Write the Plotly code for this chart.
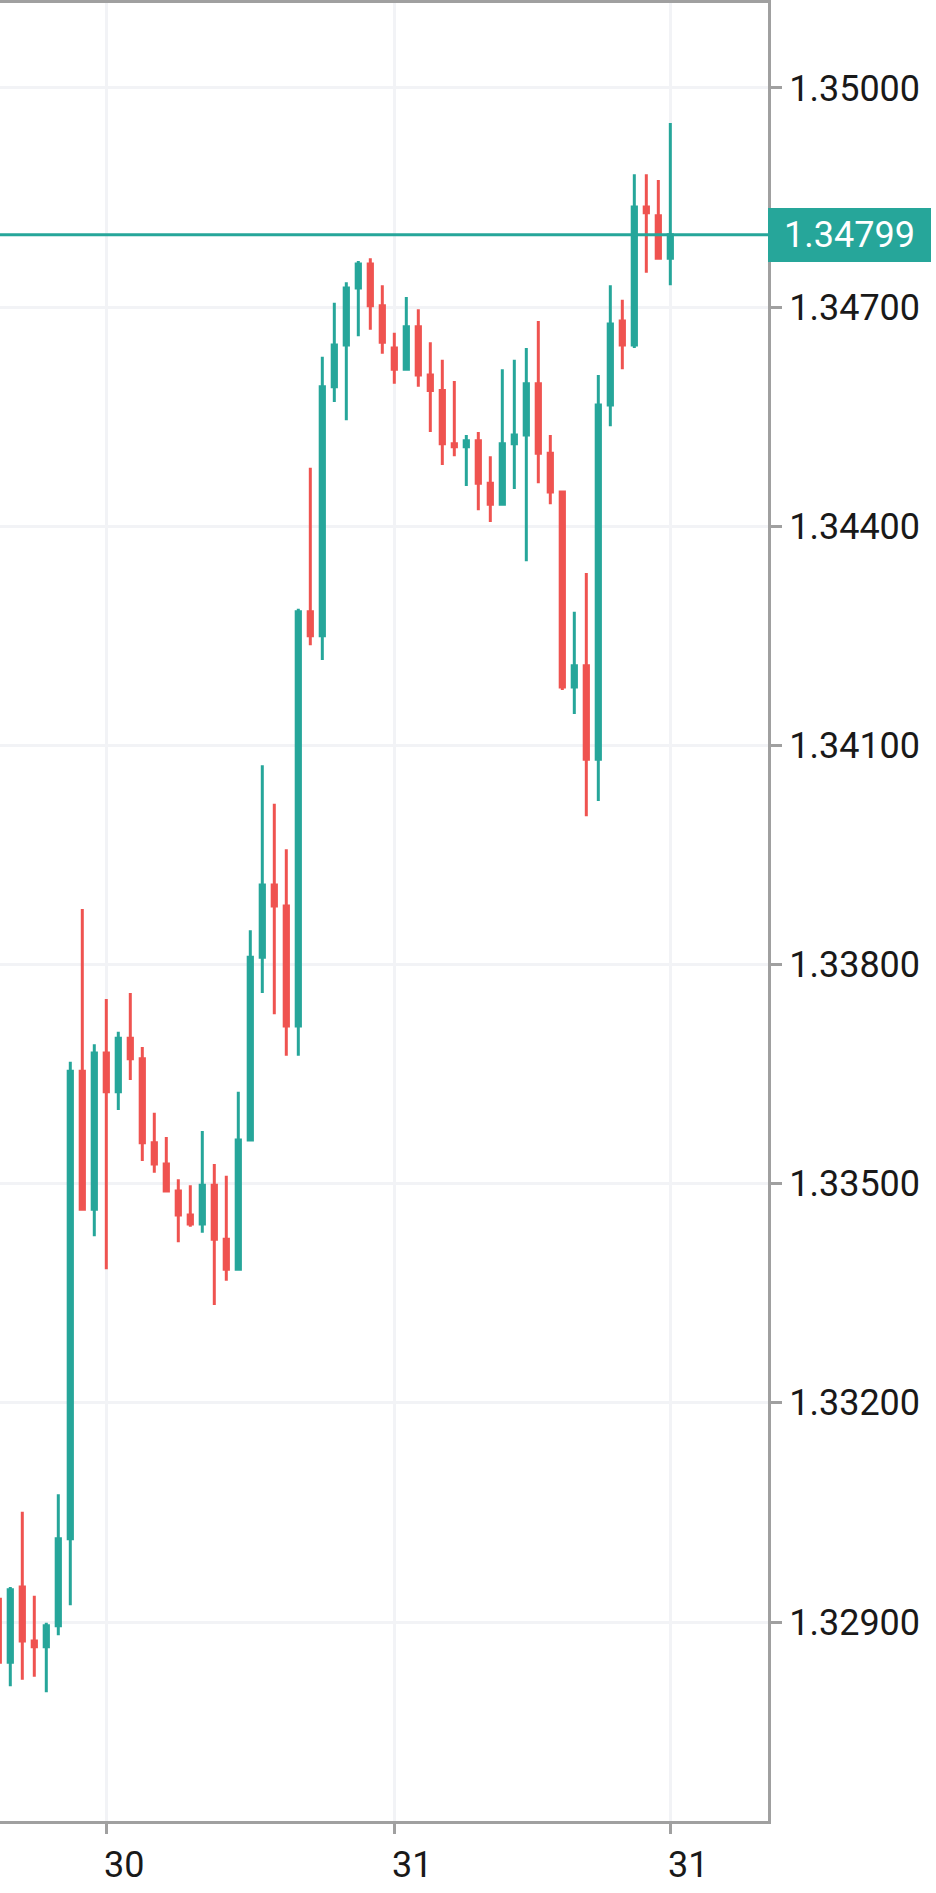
import plotly.graph_objects as go

# hourly bars, numbered from the first bar that starts after the left edge
bar_no = list(range(-1, 56))

opens = [1.32931, 1.32845, 1.32948, 1.32874, 1.32866, 1.32895, 1.33014, 1.33654,
         1.33465, 1.33679, 1.33626, 1.33699, 1.33671, 1.33556, 1.33527, 1.33490,
         1.33457, 1.33445, 1.33498, 1.33424, 1.33383, 1.33560, 1.33810, 1.33909,
         1.33880, 1.33716, 1.34283, 1.34250, 1.34591, 1.34648, 1.34726, 1.34759,
         1.34702, 1.34644, 1.34615, 1.34673, 1.34607, 1.34586, 1.34513, 1.34509,
         1.34517, 1.34459, 1.34430, 1.34513, 1.34525, 1.34595, 1.34500, 1.34447,
         1.34180, 1.34209, 1.34081, 1.34566, 1.34681, 1.34648, 1.34837, 1.34825,
         1.34767]
highs = [1.32937, 1.32948, 1.33051, 1.32936, 1.32899, 1.33075, 1.33667, 1.33876,
         1.33691, 1.33753, 1.33708, 1.33761, 1.33687, 1.33597, 1.33564, 1.33506,
         1.33498, 1.33572, 1.33527, 1.33511, 1.33626, 1.33847, 1.34073, 1.34020,
         1.33958, 1.34287, 1.34480, 1.34632, 1.34706, 1.34734, 1.34763, 1.34767,
         1.34730, 1.34665, 1.34714, 1.34697, 1.34652, 1.34628, 1.34599, 1.34525,
         1.34529, 1.34496, 1.34615, 1.34628, 1.34644, 1.34681, 1.34525, 1.34447,
         1.34283, 1.34336, 1.34607, 1.34730, 1.34710, 1.34882, 1.34882, 1.34874,
         1.34952]
lows = [1.32837, 1.32812, 1.32821, 1.32825, 1.32804, 1.32882, 1.32923, 1.33465,
        1.33428, 1.33383, 1.33601, 1.33642, 1.33531, 1.33515, 1.33490, 1.33420,
        1.33441, 1.33433, 1.33334, 1.33367, 1.33383, 1.33560, 1.33761, 1.33732,
        1.33675, 1.33675, 1.34237, 1.34217, 1.34570, 1.34545, 1.34660, 1.34669,
        1.34636, 1.34595, 1.34615, 1.34591, 1.34529, 1.34484, 1.34496, 1.34455,
        1.34422, 1.34406, 1.34430, 1.34451, 1.34352, 1.34459, 1.34430, 1.34176,
        1.34143, 1.34003, 1.34024, 1.34537, 1.34615, 1.34644, 1.34747, 1.34767,
        1.34730]
closes = [1.32845, 1.32944, 1.32874, 1.32866, 1.32895, 1.33014, 1.33654, 1.33465,
          1.33679, 1.33626, 1.33699, 1.33671, 1.33556, 1.33527, 1.33490, 1.33457,
          1.33445, 1.33498, 1.33424, 1.33383, 1.33560, 1.33810, 1.33909, 1.33880,
          1.33716, 1.34283, 1.34250, 1.34591, 1.34648, 1.34726, 1.34759, 1.34702,
          1.34652, 1.34615, 1.34673, 1.34607, 1.34586, 1.34513, 1.34509, 1.34517,
          1.34459, 1.34430, 1.34513, 1.34525, 1.34595, 1.34500, 1.34447, 1.34180,
          1.34209, 1.34081, 1.34566, 1.34677, 1.34648, 1.34837, 1.34829, 1.34767,
          1.34799]

day_tick_pos = [8, 32, 55]
day_tick_text = ["30", "31", "31"]
price_ticks = [1.329, 1.332, 1.335, 1.338, 1.341, 1.344, 1.347, 1.350]
last_price = closes[-1]

UP = "#26a69a"
DOWN = "#ef5350"
BORDER = "#a0a0a0"
GRID = "#f2f3f6"
TEXT = "#191919"
FONT = "Roboto"

fig = go.Figure()
fig.add_trace(go.Candlestick(
    x=bar_no, open=opens, high=highs, low=lows, close=closes,
    increasing=dict(line=dict(color=UP, width=3), fillcolor=UP),
    decreasing=dict(line=dict(color=DOWN, width=3), fillcolor=DOWN),
    hoverinfo="skip",
))

# last price line + tag on the price scale
fig.add_shape(type="line", xref="paper", x0=0, x1=1, yref="y",
              y0=last_price, y1=last_price,
              line=dict(color=UP, width=3), layer="above")
fig.add_annotation(xref="paper", x=1, xanchor="left", yref="y", y=last_price,
                   yanchor="middle", text=f"{last_price:.5f}", showarrow=False,
                   bgcolor=UP, width=163, height=54, borderpad=0, borderwidth=0,
                   align="center",
                   font=dict(family=FONT, size=36, color="white"))

fig.update_layout(
    width=936, height=1893,
    margin=dict(l=0, r=168, t=3, b=72),
    paper_bgcolor="white", plot_bgcolor="white",
    showlegend=False, hovermode=False,
    boxgap=0.5,
    font=dict(family=FONT, size=36, color=TEXT),
)
fig.update_xaxes(
    range=[-0.858, 63.14], rangeslider_visible=False,
    tickvals=day_tick_pos, ticktext=day_tick_text,
    ticks="outside", ticklen=10, tickwidth=3, tickcolor=BORDER,
    ticklabelshift=18,
    showline=True, linecolor=BORDER, linewidth=3, mirror=True,
    showgrid=True, gridcolor=GRID, gridwidth=3, zeroline=False,
    tickfont=dict(family=FONT, size=36, color=TEXT),
)
fig.update_yaxes(
    side="right", range=[1.326276, 1.351163],
    tickvals=price_ticks, tickformat=".5f",
    ticks="outside", ticklen=11, tickwidth=3, tickcolor=BORDER,
    showline=True, linecolor=BORDER, linewidth=3,
    showgrid=True, gridcolor=GRID, gridwidth=3, zeroline=False,
    tickfont=dict(family=FONT, size=36, color=TEXT),
)

fig.write_html("out.html", config={"displayModeBar": False},
               post_script="document.body.style.margin='0';")
